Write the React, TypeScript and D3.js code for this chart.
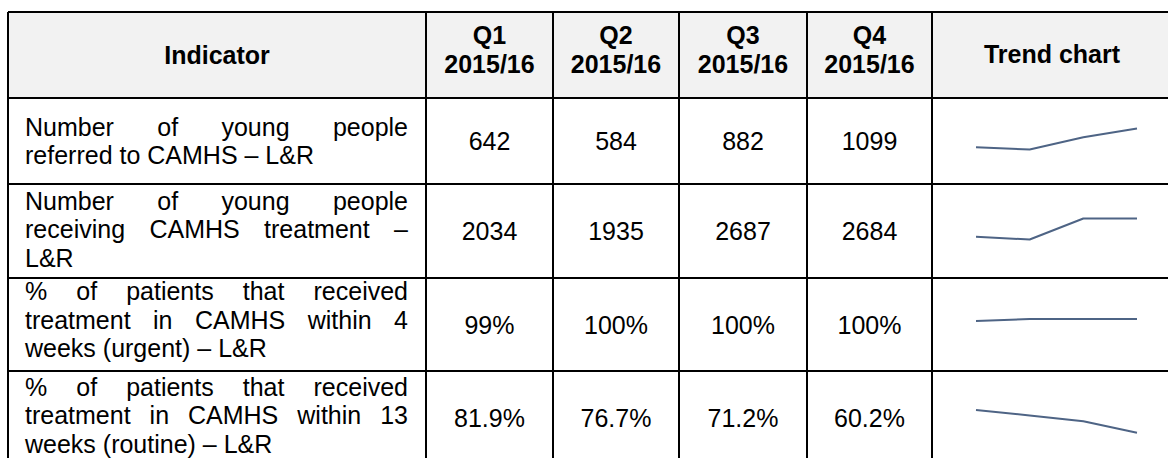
import React, { useMemo } from 'react';
import * as d3 from 'd3';

// header labels
const indicatorHeader = 'Indicator';
const quarters = ['Q1', 'Q2', 'Q3', 'Q4'];
const period = '2015/16';
const trendHeader = 'Trend chart';

// indicator text, one entry per row, split as in the original document
const indicatorLines = [
  ['Number of young people', 'referred to CAMHS – L&R'],
  ['Number of young people', 'receiving CAMHS treatment –', 'L&R'],
  ['% of patients that received', 'treatment in CAMHS within 4', 'weeks (urgent) – L&R'],
  ['% of patients that received', 'treatment in CAMHS within 13', 'weeks (routine) – L&R'],
];

// quarterly values
const referred = [642, 584, 882, 1099];
const receiving = [2034, 1935, 2687, 2684];
const urgent4wk = [99, 100, 100, 100];
const routine13wk = [81.9, 76.7, 71.2, 60.2];

const rowValues = [referred, receiving, urgent4wk, routine13wk];
const rowFormats = [d3.format('d'), d3.format('d'), (v: number) => d3.format('d')(v) + '%', (v: number) => d3.format('.1f')(v) + '%'];

// vertical range of each sparkline
const trendDomain = [
  [584, 1099],
  [1935, 2687],
  [93, 103.5],
  [66.1, 86.2],
];

const FONT = "'Liberation Sans', Arial, sans-serif";
const FS = 25;
const LH = 28.5;

let ctx: CanvasRenderingContext2D | null = null;
function measure(s: string, bold = false) {
  if (!ctx) ctx = document.createElement('canvas').getContext('2d');
  ctx!.font = `${bold ? 'bold ' : ''}${FS}px ${FONT}`;
  return ctx!.measureText(s).width;
}

const App = () => {
  const width = 1168;
  const height = 458;

  // column and row edges of the table
  const colEdges = [8, 426, 553, 679, 807, 932, 1172];
  const rowEdges = [12, 98, 184, 278, 371, 465];
  // small per-row nudge of the indicator paragraph (cell padding in the source doc)
  const textShift = [0, -2, -5, -3];

  const textLeft = 25;
  const textRight = 408;

  const x = d3.scalePoint<string>().domain(quarters).range([976, 1137]);
  const line = (vals: number[], r: number) => {
    const mid = (rowEdges[r + 1] + rowEdges[r + 2]) / 2 - 2;
    const y = d3.scaleLinear().domain(trendDomain[r]).range([mid + 10.5, mid - 10.5]);
    return d3.line<number>()
      .x((_, i) => x(quarters[i])!)
      .y(d => y(d))(vals);
  };

  // justified word placement for the indicator column
  const justified = useMemo(() => indicatorLines.map(lines => lines.map((ln, li) => {
    const words = ln.split(' ');
    const last = li === lines.length - 1;
    if (last || words.length < 2) {
      return [{ w: ln, x: textLeft }];
    }
    const widths = words.map(w => measure(w));
    const total = d3.sum(widths);
    const gap = (textRight - textLeft - total) / (words.length - 1);
    let cx = textLeft;
    return words.map((w, i) => {
      const out = { w, x: cx };
      cx += widths[i] + gap;
      return out;
    });
  })), []);

  const headMid = (rowEdges[0] + rowEdges[1]) / 2;

  return (
    <svg width={width} height={height} style={{ position: 'absolute', left: 0, top: 0, background: '#fff' }}
      fontFamily={FONT} fontSize={FS}>
      {/* header fill */}
      <rect x={colEdges[0]} y={rowEdges[0]} width={colEdges[6] - colEdges[0]} height={rowEdges[1] - rowEdges[0]} fill="#f2f2f2" />

      {/* header labels */}
      <g fontWeight="bold" textAnchor="middle" fill="#000">
        <text x={(colEdges[0] + colEdges[1]) / 2} y={headMid + 9}>{indicatorHeader}</text>
        {quarters.map((q, i) => {
          const cx = (colEdges[i + 1] + colEdges[i + 2]) / 2;
          return (
            <g key={q}>
              <text x={cx} y={headMid - 20 + 9}>{q}</text>
              <text x={cx} y={headMid + 9 + 9}>{period}</text>
            </g>
          );
        })}
        <text x={(colEdges[5] + colEdges[6]) / 2} y={headMid - 1 + 9}>{trendHeader}</text>
      </g>

      {/* indicator text */}
      <g fill="#000">
        {justified.map((lines, r) => {
          const mid = (rowEdges[r + 1] + rowEdges[r + 2]) / 2;
          const n = lines.length;
          return lines.map((words, li) => {
            const cy = mid + (li - (n - 1) / 2) * LH + textShift[r];
            return words.map((w, wi) => (
              <text key={`${r}-${li}-${wi}`} x={w.x} y={cy + 9}>{w.w}</text>
            ));
          });
        })}
      </g>

      {/* values */}
      <g textAnchor="middle" fill="#000">
        {rowValues.map((vals, r) => vals.map((v, i) => (
          <text key={`${r}-${i}`} x={(colEdges[i + 1] + colEdges[i + 2]) / 2} y={(rowEdges[r + 1] + rowEdges[r + 2]) / 2 + 9}>
            {rowFormats[r](v)}
          </text>
        )))}
      </g>

      {/* sparklines */}
      <g fill="none" stroke="#4e6485" strokeWidth={2} strokeLinejoin="round">
        {rowValues.map((vals, r) => <path key={r} d={line(vals, r) || ''} />)}
      </g>

      {/* grid */}
      <g stroke="#000" strokeWidth={2}>
        {rowEdges.map((y, i) => <line key={`h${i}`} x1={colEdges[0]} x2={colEdges[6]} y1={y} y2={y} />)}
        {colEdges.map((cx, i) => <line key={`v${i}`} x1={cx} x2={cx} y1={rowEdges[0]} y2={rowEdges[5]} />)}
      </g>
    </svg>
  );
};

export default App;
